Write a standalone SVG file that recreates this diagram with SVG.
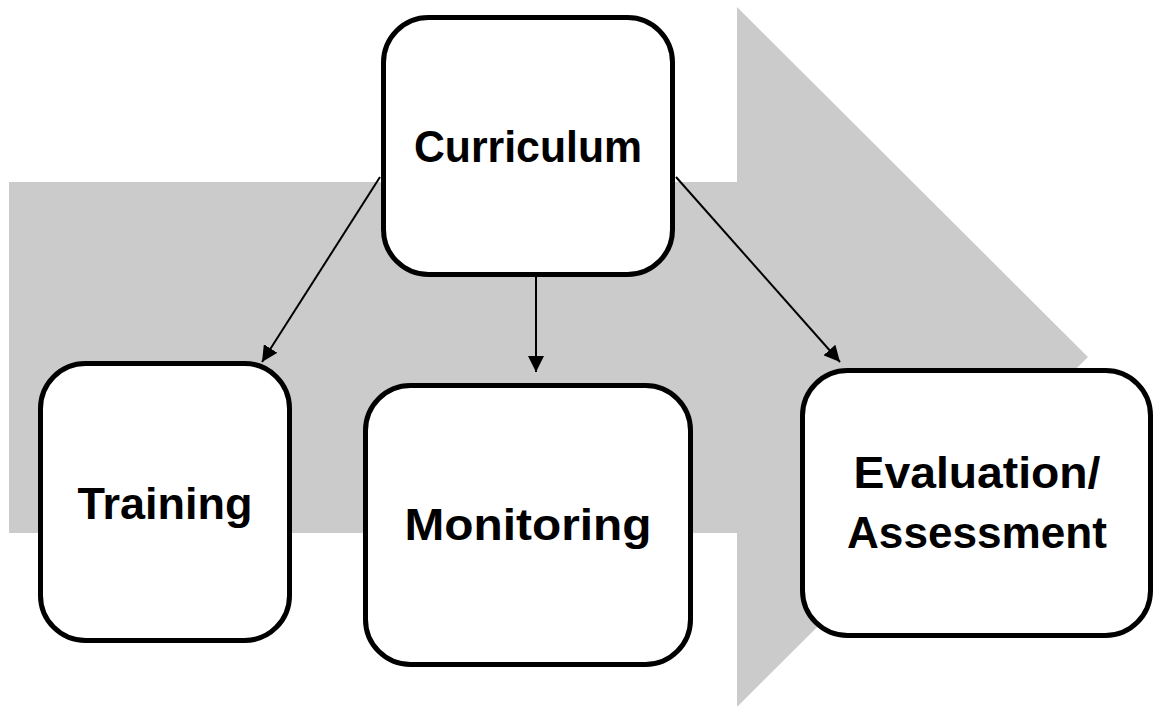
<svg xmlns="http://www.w3.org/2000/svg" width="1156" height="706" viewBox="0 0 1156 706">
<style>
.box{fill:#fff;stroke:#000;stroke-width:5}
.lbl{font-family:"Liberation Sans",Arial,sans-serif;font-weight:bold;font-size:45px;text-anchor:middle;fill:#000}
.conn{stroke:#000;stroke-width:2;fill:none;marker-end:url(#ah)}
</style>
<defs>
<marker id="ah" markerUnits="userSpaceOnUse" markerWidth="16" markerHeight="16" viewBox="0 0 16 16" refX="16" refY="8" orient="auto">
<path d="M0,0 L16,8 L0,16 Z" fill="#000"/>
</marker>
</defs>
<g id="bigArrow">
<polygon points="9,182 737,182 737,7 1088,357 737,707 737,533 9,533" fill="#cbcbcb"/>
</g>
<g id="connectors">
<line class="conn" x1="380" y1="177" x2="262" y2="362"/>
<line class="conn" x1="536" y1="277" x2="536" y2="372"/>
<line class="conn" x1="676" y1="177" x2="840" y2="362"/>
</g>
<g id="curriculum">
<rect class="box" x="383.5" y="17.5" width="289" height="257" rx="45"/>
<text class="lbl" x="528" y="162" textLength="228" lengthAdjust="spacingAndGlyphs">Curriculum</text>
</g>
<g id="training">
<rect class="box" x="40.5" y="363.5" width="249" height="277" rx="45"/>
<text class="lbl" x="165" y="519" textLength="175" lengthAdjust="spacingAndGlyphs">Training</text>
</g>
<g id="monitoring">
<rect class="box" x="365.5" y="385.5" width="325" height="279" rx="45"/>
<text class="lbl" x="528" y="540" textLength="247" lengthAdjust="spacingAndGlyphs">Monitoring</text>
</g>
<g id="evaluation">
<rect class="box" x="802.5" y="370.5" width="348" height="265" rx="45"/>
<text class="lbl" x="977" y="488" textLength="247" lengthAdjust="spacingAndGlyphs">Evaluation/</text>
<text class="lbl" x="977" y="548" textLength="260" lengthAdjust="spacingAndGlyphs">Assessment</text>
</g>
</svg>
